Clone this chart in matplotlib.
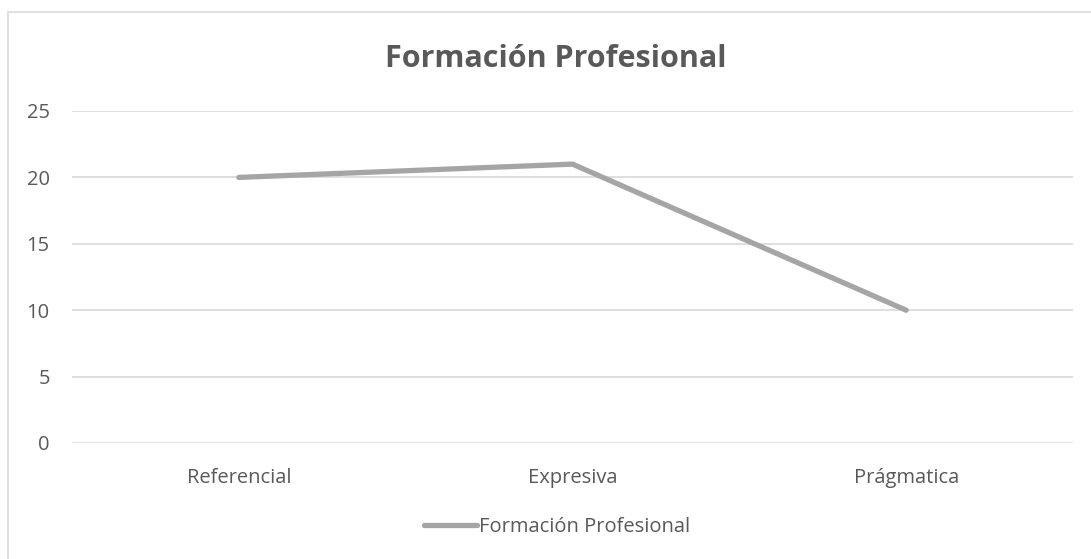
import matplotlib.pyplot as plt
from matplotlib.patches import Rectangle
from matplotlib.lines import Line2D

# data
categories = ["Referencial", "Expresiva", "Prágmatica"]
values = [20, 21, 10]
series_name = "Formación Profesional"
yticks = [0, 5, 10, 15, 20, 25]

txt = "#595959"
plt.rcParams['font.family'] = ['Open Sans', 'DejaVu Sans']

fig = plt.figure(figsize=(10.91, 5.59), dpi=100)
W, H = 1091, 559

# chart border (only top/left visible in the crop)
fig.patches.append(Rectangle((8/W, -0.1), 1.2, 1 - 12/H + 0.1, transform=fig.transFigure,
                             fill=False, edgecolor="#D9D9D9", linewidth=1.2))

ax = fig.add_axes([72/W, 1 - 443/H, (1073 - 72)/W, (443 - 111)/H])
x = list(range(len(categories)))
ax.plot(x, values, color="#A5A5A5", linewidth=3.8, solid_capstyle="round",
        solid_joinstyle="round", zorder=3)

ax.set_xlim(-0.5, len(categories) - 0.5)
ax.set_ylim(0, 25)
ax.set_yticks(yticks)
ax.set_xticks(x)
ax.set_xticklabels(categories)
ax.grid(axis="y", color="#D9D9D9", linewidth=1.2)
ax.set_axisbelow(True)
for s in ax.spines.values():
    s.set_visible(False)
ax.tick_params(length=0, labelsize=14.5, labelcolor=txt)
ax.tick_params(axis="y", pad=16)
ax.tick_params(axis="x", pad=18)

fig.text(556/W, 1 - 59/H, series_name, ha="center", va="center",
         fontsize=22, fontweight="bold", color=txt)

h = Line2D([], [], color="#A5A5A5", linewidth=3.8, solid_capstyle="round")
fig.legend([h], [series_name], loc="center", bbox_to_anchor=(557/W, 1 - 527/H),
           frameon=False, fontsize=14.5, labelcolor=txt, handlelength=2.6,
           handletextpad=0.1)

fig.savefig("out.png", dpi=100)
